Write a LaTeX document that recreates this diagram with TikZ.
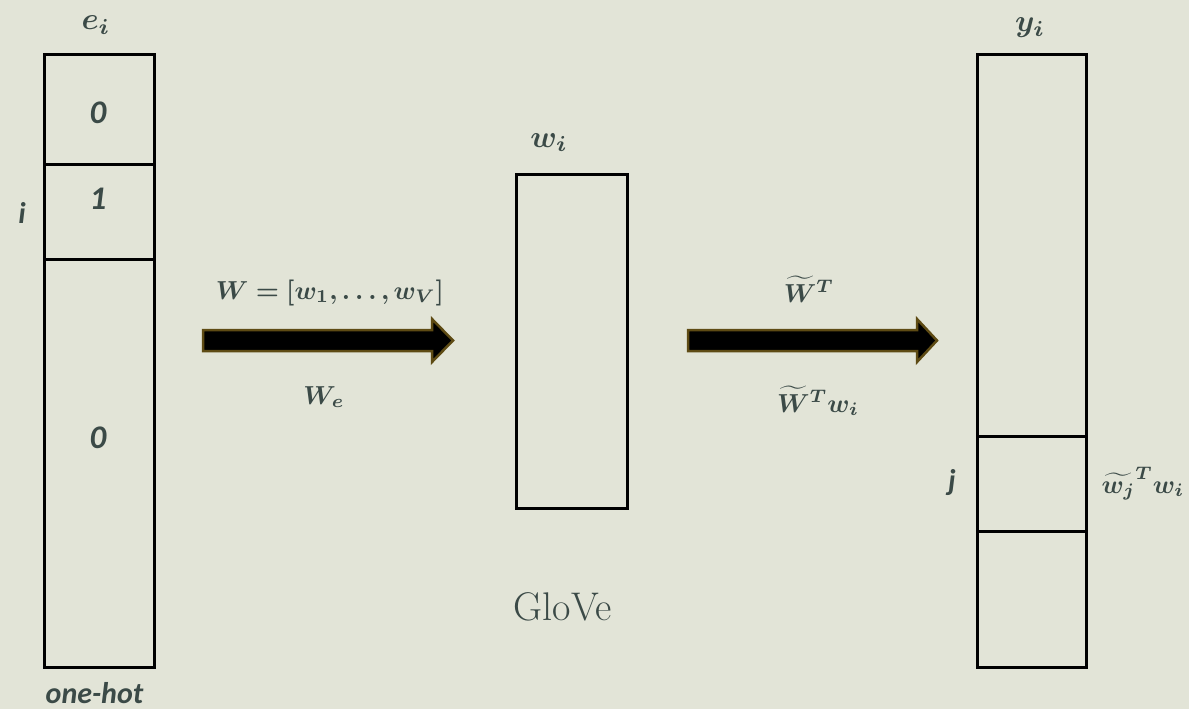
\documentclass[tikz,border=0pt]{standalone}
\usepackage{amsmath,bm}
\usepackage{fontspec}
\newfontfamily\carl{Carlito}
\definecolor{bg}{HTML}{E2E4D7}
\definecolor{txt}{HTML}{3B4A47}
\definecolor{arrowedge}{HTML}{5E4B14}
\begin{document}
\begin{tikzpicture}[x=1pt,y=-1pt,
  cell/.style={draw=black, line width=3pt, minimum width=110pt, inner sep=0pt, anchor=north west},
  lab/.style={text=txt, font=\carl\bfseries\itshape\fontsize{30}{34}\selectfont, inner sep=0pt},
  dig/.style={text=txt, font=\carl\bfseries\itshape\fontsize{33}{36}\selectfont, inner sep=0pt},
  mlab/.style={text=txt, inner sep=0pt, scale=3.1, anchor=base},
  alab/.style={text=txt, inner sep=0pt, scale=2.6, anchor=base},
  blockarrow/.style={fill=black, draw=arrowedge, line width=2.5pt, line join=miter}]
\fill[bg] (0,0) rectangle (1189,709);
\useasboundingbox (0,0) rectangle (1189,709);
% left column
\node[cell, minimum height=110pt] (c0) at (43,53) {};
\node[cell, minimum height=95pt] (c1) at (43,163) {};
\node[cell, minimum height=408pt] (c2) at (43,258) {};
\node[mlab] (ei) at (96,30) {$\bm{e_i}$};
\node[dig] (z0) at (98,112.5) {0};
\node[dig] (o1) at (98,199) {1};
\node[lab] (ii) at (22,213) {i};
\node[dig] (z2) at (98,438) {0};
\node[lab, anchor=base] (oh) at (94.5,703) {one-hot};
% middle
\node[cell, minimum width=111pt, minimum height=334pt] (mid) at (515,173) {};
\node[mlab] (wi) at (549,147) {$\bm{w_i}$};
\node[text=txt, font=\fontsize{40}{44}\selectfont, inner sep=0pt, anchor=base] (glove) at (563,620) {GloVe};
% right column
\node[cell, minimum width=109pt, minimum height=382pt] (r0) at (976,53) {};
\node[cell, minimum width=109pt, minimum height=95pt] (r1) at (976,435) {};
\node[cell, minimum width=109pt, minimum height=136pt] (r2) at (976,530) {};
\node[mlab] (yi) at (1030,32) {$\bm{y_i}$};
\node[lab] (jj) at (952,483) {j};
\node[alab] (wjwi) at (1143,493) {$\bm{\widetilde{w_j}^{T}w_i}$};
% arrows
\draw[blockarrow] (203,330) -- (432,330) -- (432,319) -- (453,340.5) -- (432,362) -- (432,351) -- (203,351) -- cycle;
\draw[blockarrow] (688,330) -- (917,330) -- (917,319) -- (937,340.5) -- (917,362) -- (917,351) -- (688,351) -- cycle;
\node[alab] (Weq) at (330,299) {$\bm{W=[w_1,\ldots,w_V]}$};
\node[alab] (We) at (324,404) {$\bm{W_e}$};
\node[alab] (WT) at (809,302) {$\bm{\widetilde{W}^{T}}$};
\node[alab] (WTw) at (818,412) {$\bm{\widetilde{W}^{T}w_i}$};
\end{tikzpicture}
\end{document}
